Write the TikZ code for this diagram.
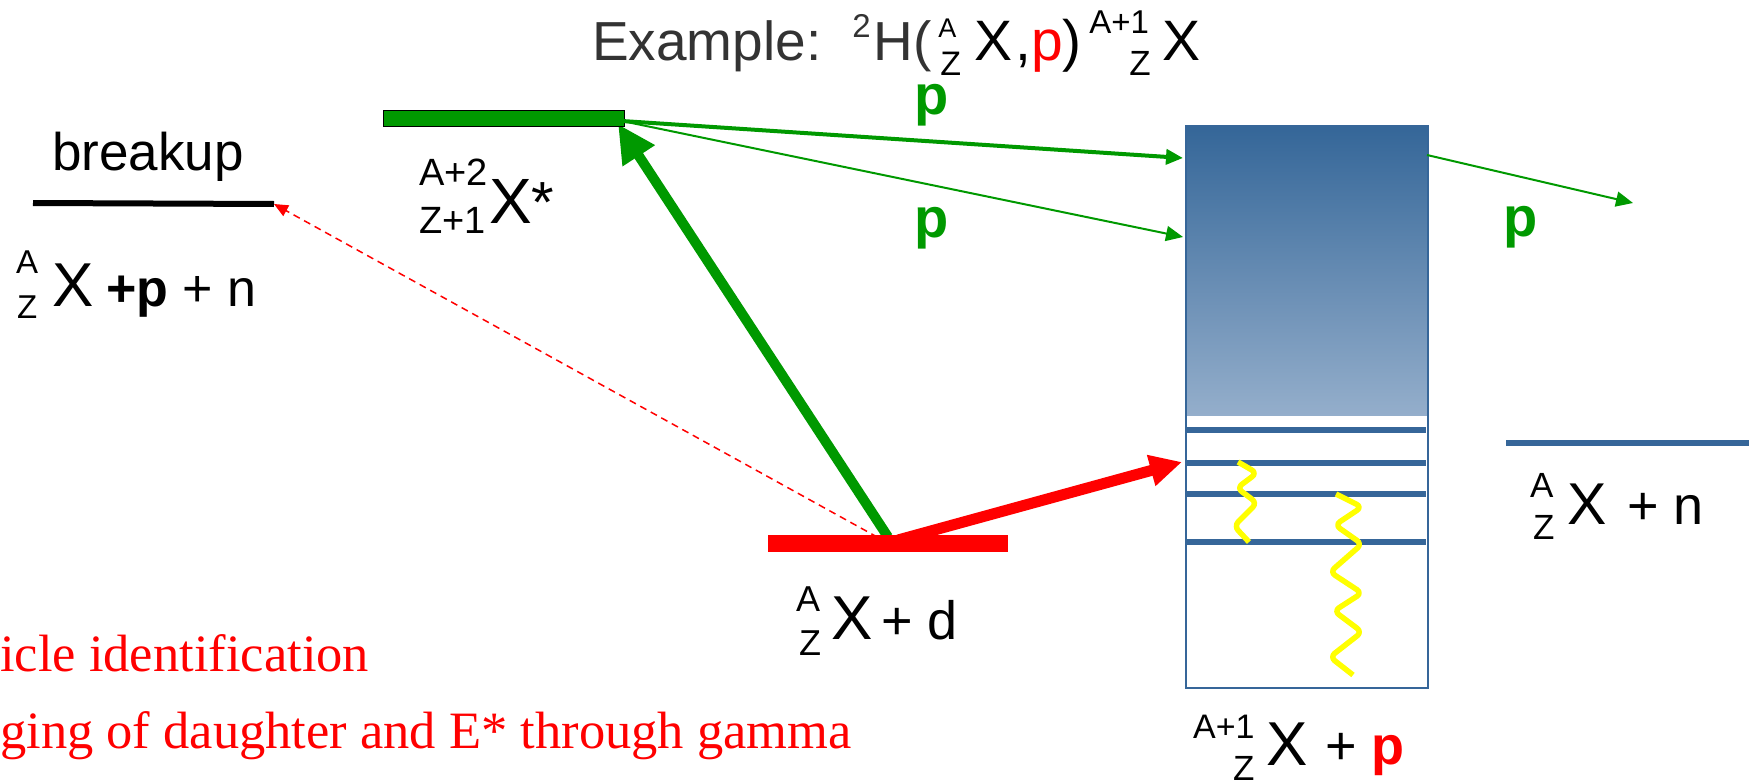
\documentclass[tikz,border=0pt]{standalone}
\usepackage{fontspec}
\setmainfont{Liberation Sans}
\newfontfamily\serifrm{Liberation Serif}
\usetikzlibrary{arrows.meta}
\definecolor{pgreen}{RGB}{0,153,0}
\definecolor{boxblue}{RGB}{54,102,153}
\definecolor{boxtop}{RGB}{52,102,152}
\definecolor{boxbot}{RGB}{148,174,203}
\definecolor{titlegray}{RGB}{51,51,51}
\definecolor{gammay}{RGB}{255,255,0}
\newcommand{\fs}[1]{\fontsize{#1}{#1}\selectfont}
\begin{document}
\begin{tikzpicture}[x=1pt,y=-1pt,
  txt/.style={inner sep=0pt, anchor=base west},
  lvl/.style={boxblue, line width=6pt},
  gam/.style={gammay, line width=5.5pt, rounded corners=6pt, line join=round},
  garrow/.style={pgreen, -{Triangle[length=17pt,width=15pt]}},
]
\useasboundingbox (0,0) rectangle (1749,784);

% ---- named coordinates
\coordinate (dmid) at (888,543);
\coordinate (gtip) at (618,124);
\coordinate (gcorner) at (622,121);
\coordinate (bkL) at (33,203);
\coordinate (bkR) at (274,204);
\coordinate (t1) at (1183,158);
\coordinate (t2) at (1183,237);
\coordinate (o1) at (1427,155);
\coordinate (o2) at (1633,203);
\coordinate (rstart) at (898,540);
\coordinate (rtip) at (1182,462);
\coordinate (nL) at (1506,443);
\coordinate (nR) at (1749,443);

% ---- title (one line)
\node[txt, font=\fs{55}, text=titlegray] (title) at (592,60) {Example:\hspace{30.8pt}%
\raisebox{22pt}{\fs{33}2}\hspace{2.7pt}H(%
\makebox[0pt][l]{\hspace{7pt}\raisebox{23pt}{\fs{27}\color{black}A}}%
\hspace{9pt}\raisebox{-16pt}{\fs{34}\color{black}Z}\hspace{13.2pt}%
{\fs{57}\color{black}X}\hspace{3pt}{\fs{57}\color{black},{\color{red}p})}\hspace{7.5pt}%
\makebox[0pt][l]{\raisebox{26pt}{\fs{33}\color{black}A+1}}%
\hspace{40pt}\raisebox{-16pt}{\fs{35}\color{black}Z}\hspace{11.6pt}%
{\fs{57}\color{black}X}};

% ---- breakup level
\draw[line width=6pt] (bkL) -- (bkR);
\node[txt, font=\fs{53}] (bk) at (52,170) {breakup};
\node[txt, font=\fs{33}] (bk-A) at (16,273) {A};
\node[txt, font=\fs{33}] (bk-Z) at (17,318) {Z};
\node[txt, font=\fs{62}] (bk-X) at (52,306) {X};
\node[txt, font=\fs{52}] (bk-r) at (106,306) {{\bfseries +p} + n};

% ---- arrows under the bars
\draw[red, line width=1.5pt, dash pattern=on 7pt off 5pt,
      -{Triangle[length=14pt,width=12pt]}] (dmid) -- (bkR);
\draw[pgreen, line width=10pt, -{Triangle[length=38pt,width=36pt]}]
      ([yshift=6pt]dmid) -- (gtip);

% ---- X* level
\node[fill=pgreen, draw=black, line width=1.2pt, minimum width=241pt,
      minimum height=16pt, inner sep=0pt, anchor=north west] (gbar) at (383,110) {};
\node[txt, font=\fs{38}] (xs-A) at (419,185) {A+2};
\node[txt, font=\fs{38}] (xs-Z) at (419,233) {Z+1};
\node[txt, font=\fs{64}] (xs-X) at (489,223) {X};
\node[txt, font=\fs{58}] (xs-s) at (531,222) {*};

% ---- green proton arrows
\draw[garrow, line width=4pt] (gcorner) -- (t1);
\draw[garrow, line width=2pt] (gcorner) -- (t2);
\node[txt, font=\fs{56}\bfseries, text=pgreen] (p1) at (914,114) {p};
\node[txt, font=\fs{56}\bfseries, text=pgreen] (p2) at (914,237) {p};

% ---- target level
\node[fill=red, minimum width=240pt, minimum height=17pt, inner sep=0pt] (dbar) at (dmid) {};
\draw[red, line width=11pt, -{Triangle[length=32pt,width=30pt]}] (rstart) -- (rtip);
\node[txt, font=\fs{36}] (d-A) at (796,611) {A};
\node[txt, font=\fs{36}] (d-Z) at (799,655) {Z};
\node[txt, font=\fs{62}] (d-X) at (831,639) {X};
\node[txt, font=\fs{54}] (d-r) at (881,639) {+ d};

% ---- final nucleus box
\shade[top color=boxtop, bottom color=boxbot] (1185,125) rectangle (1427,415);
\node[draw=boxblue, line width=2pt, minimum width=242pt, minimum height=562pt,
      inner sep=0pt, anchor=north west] (box) at (1185,125) {};
\draw[lvl] (1186,430) -- (1426,430);
\draw[lvl] (1186,463) -- (1426,463);
\draw[lvl] (1186,494) -- (1426,494);
\draw[lvl] (1186,542) -- (1426,542);
\draw[gam] (1238,462) -- (1257,473) -- (1237,488) -- (1257,503) -- (1234,526) -- (1249,542);
\draw[gam] (1336,494) -- (1362,507) -- (1335,525) -- (1362,544) -- (1330,572) -- (1362,593)
           -- (1334,611) -- (1362,632) -- (1330,657) -- (1353,675);
\draw[garrow, line width=2pt] (o1) -- (o2);
\node[txt, font=\fs{56}\bfseries, text=pgreen] (p3) at (1503,236) {p};
\node[txt, font=\fs{34}] (f-A) at (1193,738) {A+1};
\node[txt, font=\fs{35}] (f-Z) at (1233,780) {Z};
\node[txt, font=\fs{62}] (f-X) at (1266,765) {X};
\node[txt, font=\fs{54}] (f-r) at (1325,764) {+ {\bfseries\color{red}p}};

% ---- neutron separation level
\draw[boxblue, line width=6pt] (nL) -- (nR);
\node[txt, font=\fs{35}] (n-A) at (1530,497) {A};
\node[txt, font=\fs{35}] (n-Z) at (1533,539) {Z};
\node[txt, font=\fs{59}] (n-X) at (1567,524) {X};
\node[txt, font=\fs{54}] (n-r) at (1627,524) {+ n};

% ---- notes (cut at the left edge)
\node[txt, font=\serifrm\fs{52.5}, text=red] (note1) at (0,671) {icle identification};
\node[txt, font=\serifrm\fs{52.5}, text=red] (note2) at (0,748) {ging of daughter and E* through gamma};
\end{tikzpicture}
\end{document}
